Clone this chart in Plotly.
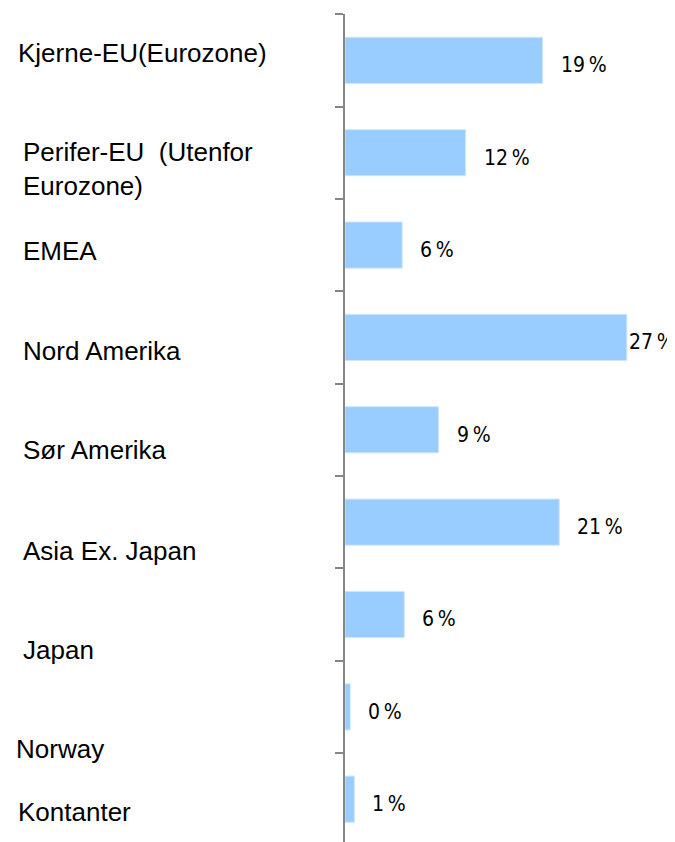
import plotly.graph_objects as go

# ---- data ----
categories = ["Kjerne-EU", "Perifer-EU", "EMEA", "Nord Amerika", "Sør Amerika",
              "Asia Ex. Japan", "Japan", "Norway", "Kontanter"]
category_labels = ["Kjerne-EU(Eurozone)", "Perifer-EU \u00a0(Utenfor<br>Eurozone)", "EMEA",
                   "Nord Amerika", "Sør Amerika", "Asia Ex. Japan", "Japan", "Norway", "Kontanter"]
values = [19.0, 11.6, 5.5, 27.1, 9.0, 20.6, 5.7, 0.5, 0.9]
value_labels = ["19\u2009%", "12\u2009%", "6\u2009%", "27\u2009%", "9\u2009%",
                "21\u2009%", "6\u2009%", "0\u2009%", "1\u2009%"]

# ---- layout / style (pixels; page body has an 8px margin) ----
PAGE_OFF = 8
W, H = 675 - PAGE_OFF, 842 - PAGE_OFF
L, R, T, B = 345 - PAGE_OFF, 0, 14 - PAGE_OFF, 0
px_per_unit = 10.4
band_px = 92.375
plot_h = H - T - B
label_left_px = [16, 21, 21, 21, 21, 21, 21, 14, 16]
label_dy_px = [-7, 16, 6, 13.5, 20.3, 28.7, 35.4, 41.7, 12.5]
value_dx_px = [16, 16, 16, 0, 16, 16, 16, 16, 16]

fig = go.Figure()
fig.add_trace(go.Bar(
    x=values, y=categories, orientation="h",
    marker=dict(color="#99CCFF", line=dict(color="#CFE6FF", width=1)),
    width=0.5, hoverinfo="skip",
))

annotations = []
for cat, lab, lx, dy in zip(categories, category_labels, label_left_px, label_dy_px):
    annotations.append(dict(
        x=0, xref="paper", y=cat, yref="y", text=lab, showarrow=False,
        xanchor="left", yanchor="middle", align="left",
        xshift=lx - PAGE_OFF - L, yshift=-dy,
        font=dict(family="Liberation Sans, Arial, sans-serif", size=26, color="#000000"),
    ))
for cat, v, vl, dx in zip(categories, values, value_labels, value_dx_px):
    annotations.append(dict(
        x=v, xref="x", y=cat, yref="y", text=vl, showarrow=False,
        xanchor="left", yanchor="middle", xshift=dx, yshift=-5,
        font=dict(family="DejaVu Sans Condensed, Liberation Sans, sans-serif", size=21, color="#000000"),
    ))

top = -0.5
bottom = top + plot_h / band_px
fig.update_layout(
    width=W, height=H,
    margin=dict(l=L, r=R, t=T, b=B, pad=0),
    paper_bgcolor="white", plot_bgcolor="white",
    showlegend=False,
    annotations=annotations,
    xaxis=dict(range=[0, (W - L - R) / px_per_unit], visible=False, fixedrange=True),
    yaxis=dict(
        type="category", categoryorder="array", categoryarray=categories,
        range=[bottom, top - 0.002],
        showticklabels=False, showgrid=False, zeroline=False,
        showline=True, linecolor="#868686", linewidth=1.5,
        ticks="outside", tickson="boundaries", ticklen=8, tickcolor="#868686", tickwidth=1.5,
    ),
)

fig.write_html("out.html")
